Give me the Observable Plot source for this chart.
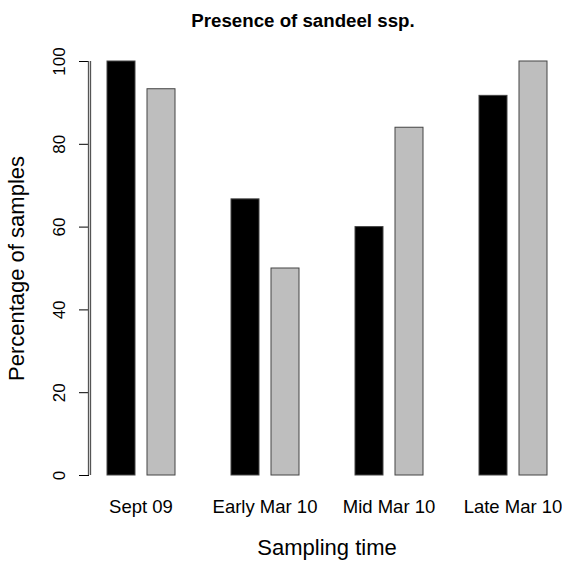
<!DOCTYPE html>
<html>
<head>
<meta charset="utf-8">
<script src="https://cdn.jsdelivr.net/npm/d3@7"></script>
<script src="https://cdn.jsdelivr.net/npm/@observablehq/plot@0.6"></script>
<style>
  html, body { margin: 0; padding: 0; background: #fff; }
  svg { font-family: "Liberation Sans", Arial, Helvetica, sans-serif; }
  [aria-label="fx-axis label"] text, [aria-label="y-axis label"] text { font-size: 22px; }
  [aria-label="fx-axis tick label"] text { font-size: 18.5px; }
  [aria-label="y-axis tick label"] text { font-size: 17px; }
  [aria-label="y-axis tick"] { stroke: #666; }
</style>
</head>
<body>
<div id="chart"></div>
<script>
const title = "Presence of sandeel ssp.";
const xLabel = "Sampling time";
const yLabel = "Percentage of samples";
const groups = ["Sept 09", "Early Mar 10", "Mid Mar 10", "Late Mar 10"];
const seriesNames = ["Series 1", "Series 2"];
const series1 = [100, 66.7, 60, 91.7];
const series2 = [93.3, 50, 84, 100];
const yTicks = [0, 20, 40, 60, 80, 100];
const colors = ["#000000", "#bebebe"];

const data = [];
groups.forEach((g, i) => {
  data.push({group: g, series: seriesNames[0], value: series1[i]});
  data.push({group: g, series: seriesNames[1], value: series2[i]});
});

const W = 562, H = 563;
const marginLeft = 89, marginTop = 61, marginBottom = 88;

const chart = Plot.plot({
  width: W,
  height: H,
  marginLeft,
  marginRight: -2,
  marginTop,
  marginBottom,
  style: {fontSize: "17px", fontFamily: "Liberation Sans, Arial, sans-serif", color: "#000", background: "#fff"},
  fx: {
    domain: groups,
    paddingInner: 0.17,
    paddingOuter: 0,
    label: xLabel,
    labelAnchor: "center",
    labelOffset: 79,
    tickSize: 0,
    tickPadding: 24
  },
  x: {domain: seriesNames, paddingInner: 0.305, paddingOuter: 0.415, axis: null},
  y: {
    domain: [0, 100],
    ticks: yTicks,
    tickSize: 10,
    tickPadding: 15,
    tickRotate: -90,
    label: yLabel,
    labelArrow: false,
    labelAnchor: "center",
    labelOffset: 81
  },
  color: {domain: seriesNames, range: colors},
  marks: [
    Plot.barY(data, {fx: "group", x: "series", y: "value", fill: "series", stroke: "#444", strokeWidth: 1}),
    // y axis line in the left-most facet, shifted from the first bar's centre to the frame's left edge
    Plot.ruleX([groups[0]], {
      fx: (d) => d,
      x: () => seriesNames[0],
      y1: () => yTicks[0],
      y2: () => yTicks[yTicks.length - 1],
      dx: -31,
      stroke: "#555",
      strokeWidth: 1.3
    })
  ]
});

document.getElementById("chart").appendChild(chart);

// strip any arrow glyphs from axis labels
d3.select(chart).selectAll('[aria-label$="axis label"] text').each(function() {
  const t = d3.select(this);
  t.text(t.text().replace(/[↑↓←→]/g, "").trim());
});

// fallback y axis line drawn with Plot's y scale
try {
  const ys = chart.scale("y");
  d3.select(chart).append("line")
    .attr("x1", marginLeft - 0.5).attr("x2", marginLeft - 0.5)
    .attr("y1", ys.apply(yTicks[0]))
    .attr("y2", ys.apply(yTicks[yTicks.length - 1]))
    .style("stroke", "#555")
    .style("stroke-width", "1.3px");
} catch (e) {}

d3.select(chart).append("text")
  .attr("x", 303)
  .attr("y", 27)
  .attr("text-anchor", "middle")
  .style("font-size", "18.7px")
  .style("font-weight", "bold")
  .style("font-family", "Liberation Sans, Arial, sans-serif")
  .attr("fill", "#000")
  .text(title);
</script>
</body>
</html>
